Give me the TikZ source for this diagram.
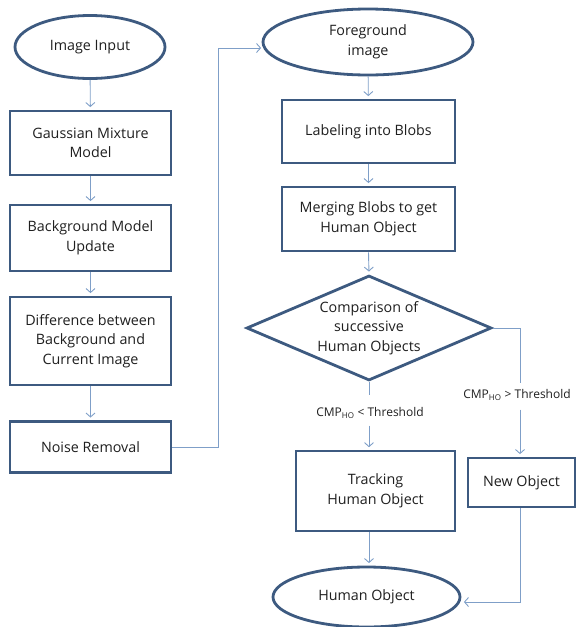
\documentclass[tikz,border=0pt]{standalone}
\usepackage{fontspec}
\setmainfont{Open Sans}
\usetikzlibrary{shapes.geometric,arrows.meta,calc}
\definecolor{edgeblue}{HTML}{3D5A80}
\definecolor{linkblue}{HTML}{7F9FC8}
\begin{document}
\begin{tikzpicture}[x=1pt,y=-1pt,
  txt/.style={align=center,font=\fontsize{14.3}{19.5}\selectfont,text=black!88,inner sep=0pt},
  box/.style={txt,draw=edgeblue,line width=2.8pt,fill=white,rectangle},
  oval/.style={txt,draw=edgeblue,line width=2.8pt,fill=white,ellipse},
  decide/.style={txt,draw=edgeblue,line width=2.8pt,fill=white,diamond},
  cond/.style={font=\fontsize{12}{14}\selectfont,text=black!88,inner sep=1pt},
  link/.style={draw=linkblue,line width=0.9pt},
  arr/.style={link,-{Straight Barb[length=4pt,width=9pt]},shorten >=2.5pt}]
\useasboundingbox (0,0) rectangle (577,627);
\node[oval,minimum width=150,minimum height=63] (img) at (90,47) {Image Input};
\node[box,minimum width=161,minimum height=64] (gmm) at (90.5,143) {Gaussian Mixture\\Model};
\node[box,minimum width=161,minimum height=66] (bg) at (90.5,238) {Background Model\\Update};
\node[box,minimum width=161,minimum height=88] (diff) at (90.5,341) {Difference between\\Background and\\Current Image};
\node[box,minimum width=161,minimum height=51] (noise) at (90.5,447) {Noise Removal};
\node[oval,minimum width=210,minimum height=66] (fg) at (368,42) {Foreground\\image};
\node[box,minimum width=173,minimum height=63] (lab) at (368.5,131.5) {Labeling into Blobs};
\node[box,minimum width=173,minimum height=64] (mer) at (368.5,219) {Merging Blobs to get\\Human Object};
\node[decide,minimum width=245,minimum height=105,aspect=2.33] (cmp) at (369,328) {Comparison of\\successive\\Human Objects};
\node[cond] (lt) at (370,413) {CMP\textsubscript{HO} < Threshold};
\node[cond] (gt) at (517,395) {CMP\textsubscript{HO} > Threshold};
\node[box,minimum width=159,minimum height=80] (trk) at (375.5,491) {Tracking\\Human Object};
\node[box,minimum width=107,minimum height=49] (new) at (521.5,482.5) {New Object};
\node[oval,minimum width=187,minimum height=60] (ho) at (366.5,597) {Human Object};
\coordinate (up) at (218,48);
\coordinate (rc) at (520,328);
\coordinate (nb) at (520,602);
\draw[arr] (img) -- (gmm);
\draw[arr] (gmm) -- (bg);
\draw[arr] (bg) -- (diff);
\draw[arr] (diff) -- (noise);
\draw[arr] (noise.east) -| (up) -- ($(fg.west)+(2,6)$);
\draw[arr] (fg) -- (lab);
\draw[arr] (lab) -- (mer);
\draw[arr] (mer.south) -- (cmp.north);
\draw[link] (cmp.south) -- ++(0,13);
\draw[arr] ($(lt.south)+(-1,6)$) -- ($(lt.south -| cmp.south)+(0,30)$);
\draw[link] (cmp.east) -- (rc) -- ($(gt.north -| rc)+(0,-5)$);
\draw[arr] ($(gt.south -| rc)+(0,8)$) -- (new.north -| rc);
\draw[arr] (trk.south -| cmp.south) -- (ho.north -| cmp.south);
\draw[arr] (new.south -| rc) -- (nb) -- ($(ho.east)+(0,5)$);
\end{tikzpicture}
\end{document}
